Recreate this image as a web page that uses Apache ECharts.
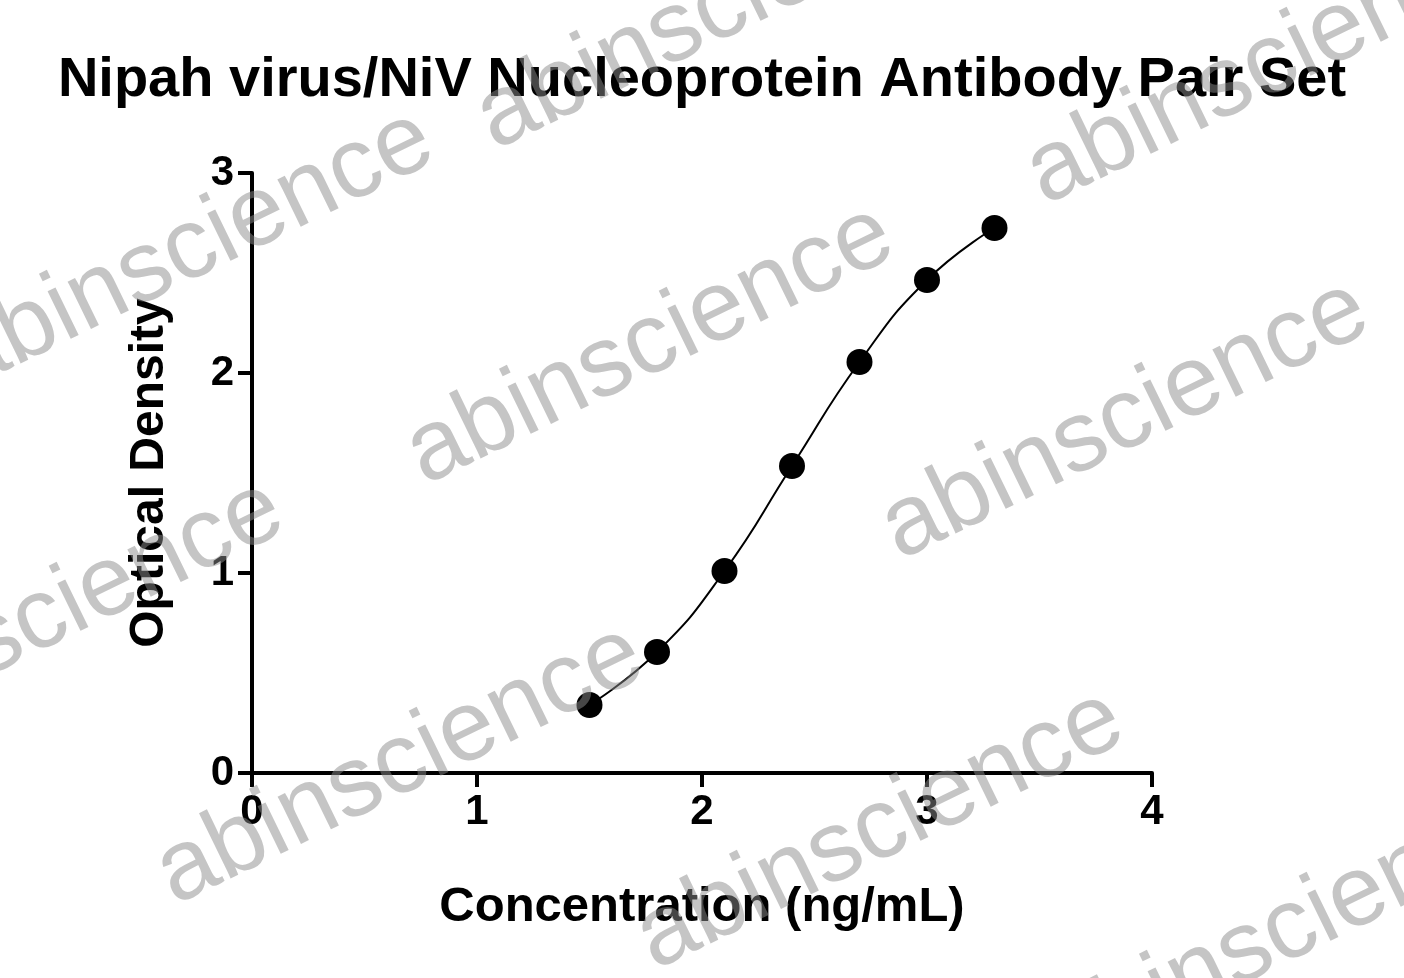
<!DOCTYPE html>
<html><head><meta charset="utf-8">
<script src="https://cdn.jsdelivr.net/npm/echarts@6/dist/echarts.min.js"></script>
<style>html,body{margin:0;padding:0;background:#fff}#c{width:1404px;height:978px}</style>
</head><body><div id="c"></div>
<script>
const conc = [1.5, 1.8, 2.1, 2.4, 2.7, 3.0, 3.3];
const od = [0.34, 0.605, 1.01, 1.535, 2.055, 2.465, 2.725];
const xTicks = [0, 1, 2, 3, 4];
const yTicks = [0, 1, 2, 3];
const F = 'Liberation Sans, Arial, sans-serif';
const wm = [[650,345],[1125,420],[400,765],[880,830],[190,250],[1270,65],[40,620],[1290,930],[720,10]];
const chart = echarts.init(document.getElementById('c'));
chart.setOption({
  animation:false,
  title:{text:'Nipah virus/NiV Nucleoprotein Antibody Pair Set',left:'center',top:48,
    textStyle:{fontFamily:F,fontWeight:'bold',fontSize:56,color:'#000'}},
  grid:{left:252,right:252,top:173,bottom:205},
  xAxis:{type:'value',min:0,max:4,interval:1,name:'Concentration (ng/mL)',nameLocation:'middle',nameGap:110,
    nameTextStyle:{fontFamily:F,fontWeight:'bold',fontSize:49,color:'#000'},
    axisLine:{lineStyle:{color:'#000',width:4}},axisTick:{length:14,lineStyle:{width:4,color:'#000'}},
    axisLabel:{fontFamily:F,fontWeight:'bold',fontSize:42,color:'#000',margin:18},splitLine:{show:false}},
  yAxis:{type:'value',min:0,max:3,interval:1,name:'Optical Density',nameLocation:'middle',nameGap:78,
    nameTextStyle:{fontFamily:F,fontWeight:'bold',fontSize:48,color:'#000'},
    axisLine:{show:true,lineStyle:{color:'#000',width:4}},axisTick:{show:true,length:14,lineStyle:{width:4,color:'#000'}},
    axisLabel:{fontFamily:F,fontWeight:'bold',fontSize:42,color:'#000',margin:18},splitLine:{show:false}},
  series:[{type:'line',data:conc.map((x,i)=>[x,od[i]]),smooth:0.5,symbol:'circle',symbolSize:26,
    lineStyle:{color:'#000',width:2},itemStyle:{color:'#000'}}],
  graphic: wm.map(p=>({type:'text',x:p[0],y:p[1],rotation:Math.PI*26/180,z:100,
    style:{text:'abinscience',font:'100px '+F,fill:'rgba(140,140,140,0.5)',align:'center',verticalAlign:'middle'}}))
});
</script></body></html>
